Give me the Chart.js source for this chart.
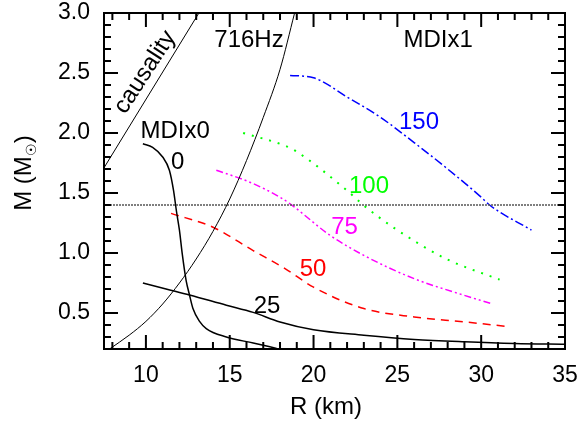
<!DOCTYPE html>
<html lang="en">
<head>
    <meta charset="UTF-8">
    <title>M-R relation</title>
    <script src="https://cdn.jsdelivr.net/npm/chart.js"></script>
    <style>
        html, body { margin: 0; padding: 0; background: #fff; }
        .chart-container { width: 581px; height: 426px; position: relative; }
    </style>
</head>
<body>
    <div class="chart-container">
        <canvas id="mrChart"></canvas>
    </div>

    <script>
        // ---- data (R in km, M in solar masses) ----
        const xTicks = [10, 15, 20, 25, 30, 35];
        const yTicks = [0.5, 1.0, 1.5, 2.0, 2.5, 3.0];

        const causalityR = [7.5, 13.16];
        const causalityM = [1.71, 3.0];

        const hz716R = [7.83, 9, 10, 11, 12, 13, 14, 15, 16, 17, 18, 18.87];
        const hz716M = [0.2, 0.315, 0.43, 0.575, 0.75, 0.95, 1.18, 1.45, 1.77, 2.13, 2.53, 3.0];

        const canonicalR = [7.5, 35];
        const canonicalM = [1.4, 1.4];

        const mdi0R = [9.82, 10.4, 11.0, 11.4, 11.65, 11.82, 12.0, 12.17, 12.4, 12.6, 12.8, 13.2, 13.6, 14.8, 16.4, 17.8];
        const mdi0M = [1.91, 1.88, 1.80, 1.69, 1.52, 1.35, 1.19, 0.99, 0.77, 0.65, 0.54, 0.43, 0.37, 0.30, 0.25, 0.205];

        const mdi25R = [9.82, 11.2, 12.6, 14.8, 16.4, 18.0, 20.0, 23.0, 26.0, 29.0, 32.0, 35.0];
        const mdi25M = [0.75, 0.70, 0.65, 0.565, 0.505, 0.425, 0.36, 0.315, 0.28, 0.26, 0.246, 0.24];

        const mdi50R = [11.5, 14.0, 16.4, 18.3, 20.0, 23.0, 26.0, 29.0, 31.4];
        const mdi50M = [1.33, 1.215, 1.02, 0.87, 0.715, 0.537, 0.467, 0.426, 0.39];

        const mdi75R = [14.2, 16.2, 18.0, 18.6, 21.0, 23.0, 26.0, 29.0, 30.6];
        const mdi75M = [1.69, 1.59, 1.465, 1.41, 1.146, 0.98, 0.786, 0.647, 0.578];

        const mdi100R = [15.8, 18.3, 18.9, 22.0, 23.0, 24.9, 27.9, 31.1];
        const mdi100M = [2.0, 1.894, 1.853, 1.52, 1.396, 1.20, 0.952, 0.778];

        const mdi150R = [18.6, 20.0, 22.0, 24.0, 26.0, 28.0, 30.0, 30.5, 33.0];
        const mdi150M = [2.48, 2.46, 2.30, 2.13, 1.92, 1.70, 1.465, 1.40, 1.19];

        const FONT = "'Liberation Sans', Arial, sans-serif";

        function pts(xs, ys) {
            return xs.map((v, i) => ({ x: v, y: ys[i] }));
        }

        function curve(label, xs, ys, color, width, dash) {
            return {
                label: label,
                data: pts(xs, ys),
                borderColor: color,
                borderWidth: width,
                borderDash: dash,
                pointRadius: 0,
                fill: false,
                cubicInterpolationMode: 'monotone'
            };
        }

        // text labels placed in data coordinates
        const notes = [
            { text: 'causality', r: 9.95, m: 2.506, color: '#000', rot: -57 },
            { text: '716Hz', r: 16.15, m: 2.773, color: '#000' },
            { text: 'MDIx1', r: 27.43, m: 2.768, color: '#000' },
            { text: 'MDIx0', r: 11.74, m: 2.01, color: '#000' },
            { text: '0', r: 11.89, m: 1.758, color: '#000' },
            { text: '150', r: 26.29, m: 2.085, color: '#0000ff' },
            { text: '100', r: 23.31, m: 1.556, color: '#00ff00' },
            { text: '75', r: 21.85, m: 1.214, color: '#ff00ff' },
            { text: '50', r: 19.97, m: 0.864, color: '#ff0000' },
            { text: '25', r: 17.23, m: 0.556, color: '#000' }
        ];

        // frame with inward ticks on all four sides, labels, axis titles
        const decorations = {
            id: 'decorations',
            afterDatasetsDraw(chart) {
                const { ctx, chartArea: a, scales: { x, y } } = chart;
                ctx.save();
                ctx.strokeStyle = '#000';
                ctx.lineWidth = 2;
                ctx.strokeRect(a.left, a.top, a.right - a.left, a.bottom - a.top);

                ctx.beginPath();
                for (let r = 8; r <= 35; r++) {
                    const px = x.getPixelForValue(r);
                    const len = r % 5 === 0 ? 14 : 7;
                    ctx.moveTo(px, a.bottom); ctx.lineTo(px, a.bottom - len);
                    ctx.moveTo(px, a.top); ctx.lineTo(px, a.top + len);
                }
                for (let k = 3; k <= 30; k++) {
                    const py = y.getPixelForValue(k / 10);
                    const len = k % 5 === 0 ? 14 : 7;
                    ctx.moveTo(a.left, py); ctx.lineTo(a.left + len, py);
                    ctx.moveTo(a.right, py); ctx.lineTo(a.right - len, py);
                }
                ctx.stroke();

                ctx.font = '24px ' + FONT;
                ctx.textAlign = 'center';
                ctx.textBaseline = 'middle';
                notes.forEach(n => {
                    ctx.save();
                    ctx.fillStyle = n.color;
                    ctx.translate(x.getPixelForValue(n.r), y.getPixelForValue(n.m));
                    if (n.rot) ctx.rotate(n.rot * Math.PI / 180);
                    ctx.fillText(n.text, 0, 0);
                    ctx.restore();
                });

                // axis titles
                ctx.fillStyle = '#000';
                ctx.fillText('R (km)', 326, 407);

                ctx.save();
                ctx.translate(24, 173);
                ctx.rotate(-Math.PI / 2);
                ctx.textAlign = 'left';
                const main = 'M (M';
                const w1 = ctx.measureText(main).width;
                ctx.font = '14px ' + FONT;
                const sun = '\u2609';
                const w2 = ctx.measureText(sun).width;
                ctx.font = '24px ' + FONT;
                const w3 = ctx.measureText(')').width;
                const start = -(w1 + w2 + w3) / 2;
                ctx.fillText(main, start, 0);
                ctx.font = '14px ' + FONT;
                ctx.fillText(sun, start + w1, 8);
                ctx.font = '24px ' + FONT;
                ctx.fillText(')', start + w1 + w2, 0);
                ctx.restore();

                ctx.restore();
            }
        };

        const ctx = document.getElementById('mrChart').getContext('2d');
        new Chart(ctx, {
            type: 'line',
            data: {
                datasets: [
                    curve('causality', causalityR, causalityM, '#000', 1, []),
                    curve('716Hz', hz716R, hz716M, '#000', 1, []),
                    curve('1.4', canonicalR, canonicalM, '#555', 1.5, [2, 1]),
                    curve('0', mdi0R, mdi0M, '#000', 1.5, []),
                    curve('25', mdi25R, mdi25M, '#000', 1.5, []),
                    curve('50', mdi50R, mdi50M, '#ff0000', 1.5, [8, 6]),
                    curve('75', mdi75R, mdi75M, '#ff00ff', 1.5, [7, 3, 2, 3, 2, 3]),
                    curve('100', mdi100R, mdi100M, '#00ff00', 2, [2, 7]),
                    curve('150', mdi150R, mdi150M, '#0000ff', 1.5, [9, 3, 2, 3])
                ]
            },
            options: {
                responsive: true,
                maintainAspectRatio: false,
                animation: false,
                layout: { padding: { top: 13, right: 16, left: 0, bottom: 0 } },
                plugins: {
                    legend: { display: false },
                    tooltip: { enabled: false }
                },
                scales: {
                    x: {
                        type: 'linear',
                        min: 7.5,
                        max: 35,
                        grid: { display: false, drawTicks: false },
                        border: { display: false },
                        afterFit: s => { s.height = 77; s.paddingLeft = 0; s.paddingRight = 0; },
                        afterBuildTicks: s => { s.ticks = xTicks.map(v => ({ value: v })); },
                        ticks: {
                            color: '#000',
                            padding: 13,
                            maxRotation: 0,
                            font: { family: FONT, size: 23 },
                            callback: v => String(v)
                        }
                    },
                    y: {
                        type: 'linear',
                        min: 0.2,
                        max: 3.0,
                        grid: { display: false, drawTicks: false },
                        border: { display: false },
                        afterFit: s => { s.width = 104; s.paddingTop = 0; s.paddingBottom = 0; },
                        afterBuildTicks: s => { s.ticks = yTicks.map(v => ({ value: v })); },
                        ticks: {
                            color: '#000',
                            padding: 14,
                            font: { family: FONT, size: 23 },
                            callback: v => Number(v).toFixed(1)
                        }
                    }
                }
            },
            plugins: [decorations]
        });
    </script>
</body>
</html>
